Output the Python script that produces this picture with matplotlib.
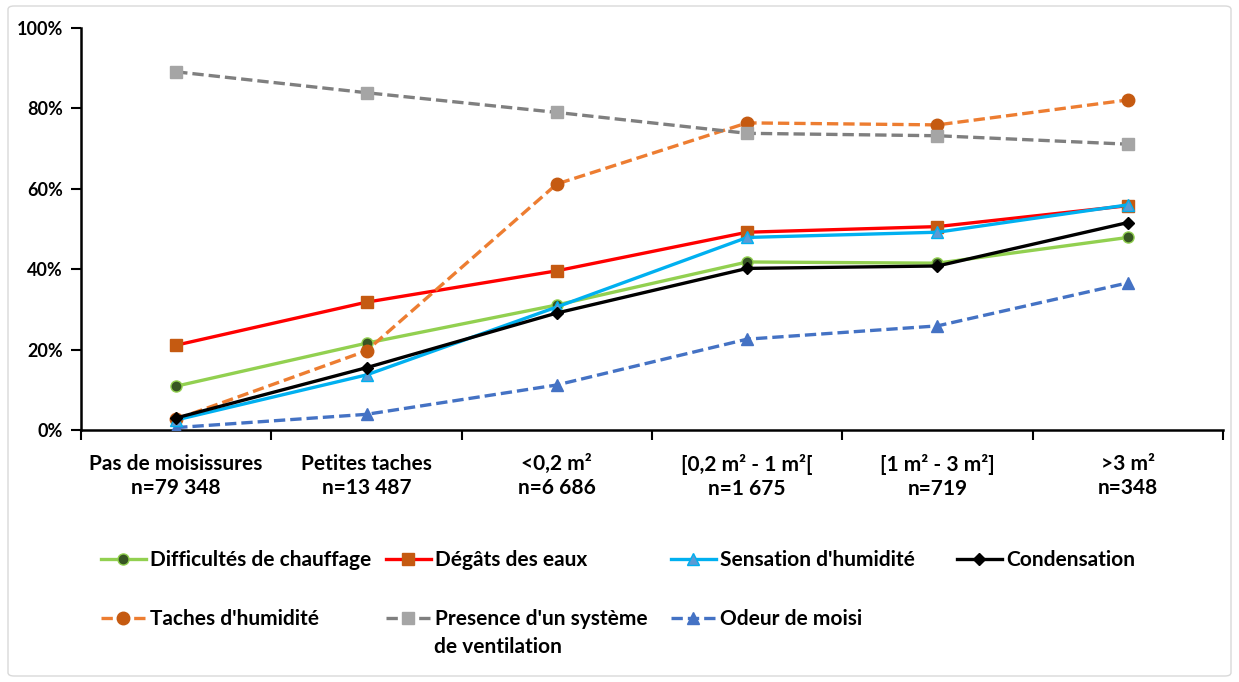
import matplotlib
matplotlib.use("Agg")
import matplotlib.pyplot as plt
from matplotlib.patches import FancyBboxPatch
from matplotlib.ticker import PercentFormatter, FixedLocator

plt.rcParams['font.family'] = ['Lato', 'DejaVu Sans']
plt.rcParams['font.weight'] = 'bold'

categories = ["Pas de moisissures\nn=79 348", "Petites taches\nn=13 487", "<0,2 m²\nn=6 686",
              "[0,2 m² - 1 m²[\nn=1 675", "[1 m² - 3 m²]\nn=719", ">3 m²\nn=348"]

chauffage = [10.9, 21.6, 31.1, 41.8, 41.5, 47.9]
degats = [21.1, 31.8, 39.6, 49.2, 50.6, 55.8]
sensation = [2.5, 13.7, 30.6, 47.9, 49.2, 56.0]
condensation = [3.0, 15.5, 29.1, 40.2, 40.8, 51.6]
taches = [2.7, 19.7, 61.2, 76.4, 75.9, 82.1]
ventilation = [89.1, 83.9, 79.0, 73.8, 73.2, 71.1]
odeur = [0.6, 3.9, 11.2, 22.6, 25.9, 36.6]

W, H = 1239, 682
fig = plt.figure(figsize=(W / 100, H / 100), dpi=100)
fig.patches.append(FancyBboxPatch((8 / W, 6 / H), (W - 16) / W, (H - 12) / H,
                                  boxstyle="round,pad=0,rounding_size=0.005",
                                  transform=fig.transFigure, fill=False,
                                  edgecolor="#D9D9D9", linewidth=1.0))

ax = fig.add_axes([81 / W, 1 - 430 / H, (1223 - 81) / W, (430 - 28) / H])
x = list(range(len(categories)))
lw = 2.4
ms = 8
dash = (3.4, 1.5)
FS = 15

h1, = ax.plot(x, chauffage, color="#92D050", lw=lw, marker="o", ms=ms,
              mfc="#375623", mec="#92D050", mew=1.0, label="Difficultés de chauffage", zorder=3)
h2, = ax.plot(x, degats, color="#FF0000", lw=lw, marker="s", ms=ms,
              mfc="#C55A11", mec="#C55A11", label="Dégâts des eaux", zorder=3)
h3, = ax.plot(x, sensation, color="#00B0F0", lw=lw, marker="^", ms=ms + 1,
              mfc="#5B9BD5", mec="#00B0F0", mew=1.0, label="Sensation d'humidité", zorder=4)
h4, = ax.plot(x, condensation, color="#000000", lw=lw, marker="D", ms=ms - 2,
              mfc="#000000", mec="#000000", label="Condensation", zorder=5)
h5, = ax.plot(x, taches, color="#ED7D31", lw=lw, ls=(0, dash), marker="o", ms=ms + 1,
              mfc="#C55A11", mec="#C55A11", label="Taches d'humidité", zorder=3)
h6, = ax.plot(x, ventilation, color="#7F7F7F", lw=lw, ls=(0, dash), marker="s", ms=ms + 1,
              mfc="#A5A5A5", mec="#A5A5A5", label="Presence d'un système", zorder=3)
h7, = ax.plot(x, odeur, color="#4472C4", lw=lw, ls=(0, dash), marker="^", ms=ms + 1,
              mfc="#4472C4", mec="#4472C4", label="Odeur de moisi", zorder=3)

ax.set_xlim(-0.5, len(categories) - 0.5)
ax.set_ylim(0, 100)
ax.set_yticks([0, 20, 40, 60, 80, 100])
ax.yaxis.set_major_formatter(PercentFormatter(decimals=0))
ax.set_xticks(x)
ax.set_xticklabels(categories, fontsize=FS, fontweight='bold', linespacing=1.3)
ax.xaxis.set_minor_locator(FixedLocator([i - 0.5 for i in range(len(categories) + 1)]))
ax.tick_params(axis='x', which='major', length=0, pad=17)
ax.tick_params(axis='x', which='minor', length=7, width=1.5, direction='out')
ax.tick_params(axis='y', length=7, width=1.5, direction='out', labelsize=13, pad=6)
for lab in ax.get_yticklabels():
    lab.set_fontweight('bold')
for s in ['top', 'right']:
    ax.spines[s].set_visible(False)
for s in ['left', 'bottom']:
    ax.spines[s].set_linewidth(1.8)

entries = [
    (h1, "Difficultés de chauffage", 101, 560),
    (h2, "Dégâts des eaux", 386, 560),
    (h3, "Sensation d'humidité", 671, 560),
    (h4, "Condensation", 957, 560),
    (h5, "Taches d'humidité", 101, 619),
    (h6, "Presence d'un système", 386, 619),
    (h7, "Odeur de moisi", 671, 619),
]
for h, lab, px, py in entries:
    fig.legend([h], [lab], loc='center left', bbox_to_anchor=(px / W, 1 - py / H),
               frameon=False, borderpad=0, borderaxespad=0, handlelength=2.15,
               handletextpad=0.2, prop={'size': FS, 'weight': 'bold'})
fig.text(434 / W, 1 - 647 / H, "de ventilation", fontsize=FS, fontweight='bold',
         va='center', ha='left')

fig.savefig("out.png", dpi=100)
